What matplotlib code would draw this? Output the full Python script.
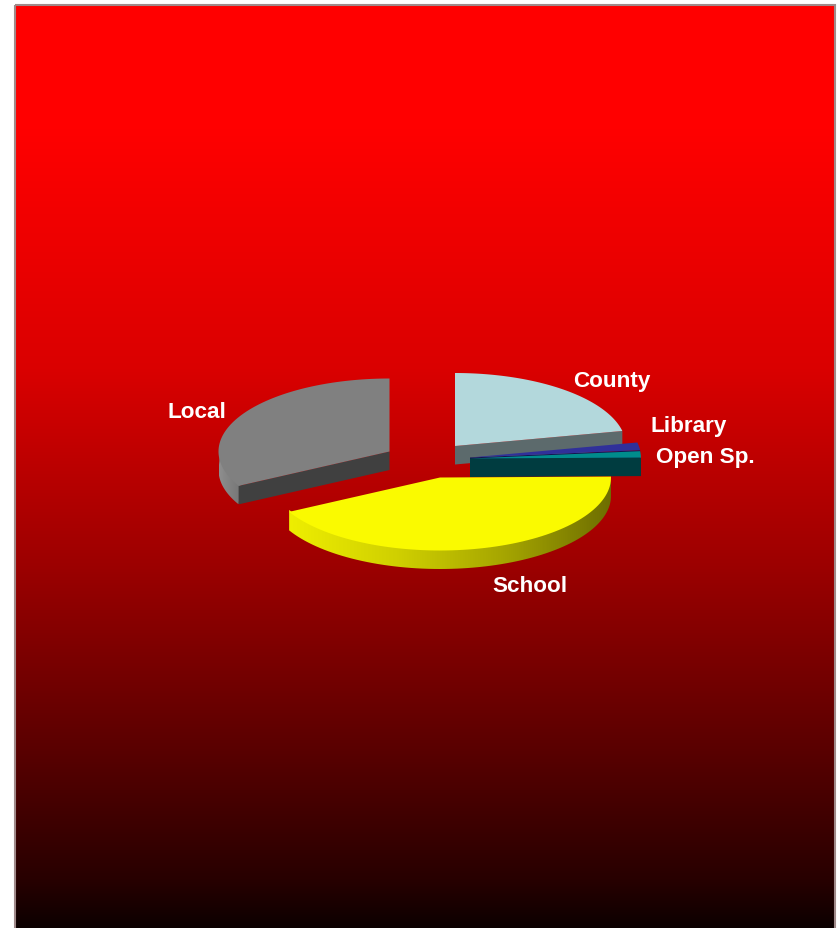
import matplotlib
matplotlib.use("Agg")
import matplotlib.pyplot as plt
from matplotlib.patches import Polygon, Rectangle
from matplotlib.colors import LinearSegmentedColormap
import numpy as np

# slice shares, clockwise from 12 o'clock
labels = ["County", "Library", "Open Sp.", "School", "Local"]
shares = [21.7, 1.7, 1.4, 42.4, 32.8]

top_colors = ["#b3d8dc", "#30309a", "#008c8c", "#fafa00", "#808080"]
face_colors = ["#5c6a6c", "#141450", "#003c40", "#808000", "#404040"]

# exploded centre of each slice, in pixels
centers = {"County": (455, 447), "Library": (470, 458.5), "Open Sp.": (470, 459.5),
           "School": (440, 478.5), "Local": (389.5, 452.5)}
label_pos = {"County": (612, 381.5), "Library": (689, 426.5), "Open Sp.": (705, 457.5),
             "School": (530, 586.5), "Local": (197, 412.5)}
RX, RY, DEPTH = 171, 73, 18.5

fig = plt.figure(figsize=(8.38, 9.29), dpi=100, facecolor="white")
ax = fig.add_axes([0, 0, 1, 1])

# red to black background
grad_y = [5, 130, 370, 570, 750, 880, 929]
grad_r = [255, 255, 218, 155, 90, 40, 12]
ys = np.arange(5, 930)
bg = np.zeros((len(ys), 1, 3))
bg[:, 0, 0] = np.interp(ys, grad_y, grad_r) / 255
ax.imshow(bg, extent=(15, 835, 929, 5), aspect="auto", zorder=0, interpolation="bilinear")
ax.add_patch(Rectangle((15, 5.5), 820, 930, fill=False, ec="#a08a8a", lw=1.5, zorder=1))


def rim(cx, cy, a0, a1, n=80):
    t = np.radians(np.linspace(a0, a1, n))
    return np.column_stack([cx + RX * np.sin(t), cy - RY * np.cos(t)])


def shaded_wall(pts, colors, z):
    # wall with a left to right shade, clipped to the wall outline
    poly = Polygon(pts, closed=True, fc="none", ec="none", zorder=z)
    ax.add_patch(poly)
    cmap = LinearSegmentedColormap.from_list("wall", colors)
    x0, x1 = pts[:, 0].min(), pts[:, 0].max()
    y0, y1 = pts[:, 1].min(), pts[:, 1].max()
    im = ax.imshow(np.linspace(0, 1, 256).reshape(1, -1), cmap=cmap, extent=(x0, x1, y1, y0),
                   aspect="auto", zorder=z)
    im.set_clip_path(poly)


angles = np.concatenate([[0], np.cumsum(shares) / np.sum(shares) * 360])

for i, name in enumerate(labels):
    cx, cy = centers[name]
    a0, a1 = angles[i], angles[i + 1]
    z = 2 + i if name != "Local" else 1.5
    arc = rim(cx, cy, a0, a1)
    if name == "School":
        # start the wall a little above the rim so no background shows at the seam
        wall = np.vstack([arc - [0, 2], arc[::-1] + [0, DEPTH]])
        shaded_wall(wall, ["#eeee00", "#d0d000", "#a6a600", "#6e6e00"], z)
    elif name == "Local":
        vis = rim(cx, cy, a0, 270)
        wall = np.vstack([vis + [2, -2], vis[::-1] + [0, DEPTH]])
        shaded_wall(wall, ["#8e8e8e", "#747474"], z)
        # cut face on the lower edge
        face = np.array([arc[0], [cx, cy], [cx, cy + DEPTH], arc[0] + [0, DEPTH]])
        ax.add_patch(Polygon(face, closed=True, fc=face_colors[i], ec="none", zorder=z))
    else:
        # these three show their flat cut face towards the viewer
        face = np.array([[cx, cy], arc[-1], arc[-1] + [0, DEPTH], [cx, cy + DEPTH]])
        ax.add_patch(Polygon(face, closed=True, fc=face_colors[i], ec="none", zorder=z))
    top = np.vstack([[cx, cy], arc])
    ax.add_patch(Polygon(top, closed=True, fc=top_colors[i], ec="none", zorder=z + 0.1))

for name in labels:
    ax.text(*label_pos[name], name, color="white", fontsize=16.2, fontweight="bold",
            family="Liberation Sans", ha="center", va="center", zorder=10)

ax.set_xlim(0, 838)
ax.set_ylim(929, 0)
ax.axis("off")

fig.savefig("out.png", dpi=100, facecolor="white")
